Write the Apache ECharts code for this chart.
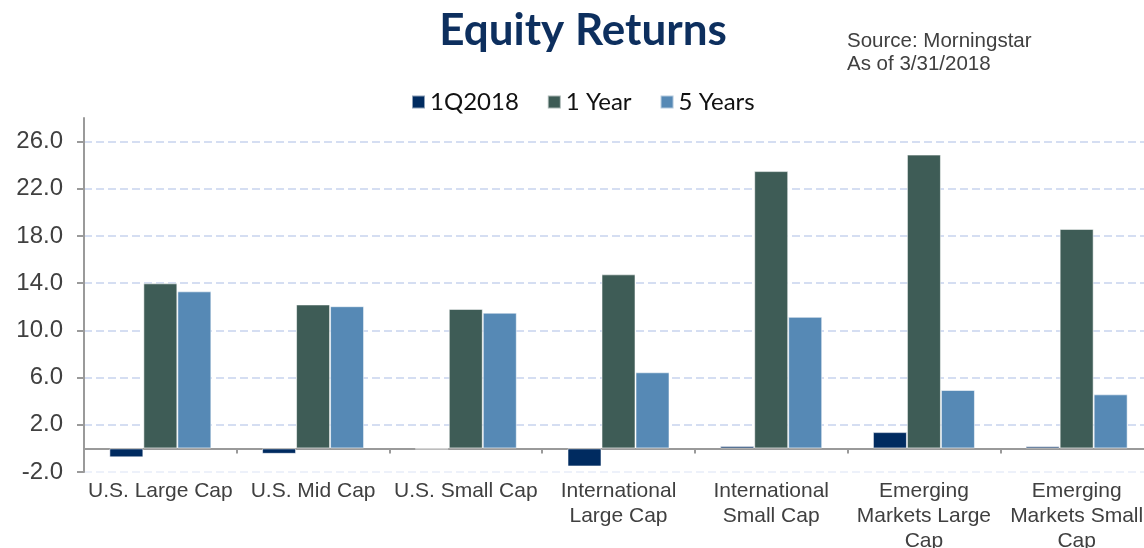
<!DOCTYPE html>
<html>
<head>
<meta charset="utf-8">
<script src="https://cdn.jsdelivr.net/npm/echarts@6/dist/echarts.min.js"></script>
<style>html,body{margin:0;padding:0;background:#fff;}#c{width:1144px;height:548px;}</style>
</head>
<body>
<div id="c"></div>
<script>
var categories = ['U.S. Large Cap', 'U.S. Mid Cap', 'U.S. Small Cap', 'International\nLarge Cap', 'International\nSmall Cap', 'Emerging\nMarkets Large\nCap', 'Emerging\nMarkets Small\nCap'];
var seriesNames = ['1Q2018', '1 Year', '5 Years'];
var q1 = [-0.76, -0.46, -0.08, -1.53, 0.2, 1.38, 0.18];
var oneYear = [13.99, 12.2, 11.82, 14.75, 23.5, 24.9, 18.6];
var fiveYears = [13.31, 12.05, 11.5, 6.45, 11.15, 4.95, 4.58];
var yTicks = [-2, 2, 6, 10, 14, 18, 22, 26];

var chart = echarts.init(document.getElementById('c'));
var colors = ['#002b60', '#3e5c56', '#5689b5'];
function bar(name, data, color) {
  return {
    name: name, type: 'bar', data: data, barWidth: 34, barGap: '0%',
    itemStyle: { color: color, borderColor: 'rgba(255,255,255,0.55)', borderWidth: 1 }
  };
}
chart.setOption({
  animation: false,
  title: [
    { text: 'Equity Returns', left: 578, top: 4, textAlign: 'center',
      textStyle: { fontFamily: 'Lato', fontWeight: 'bold', fontSize: 44, color: '#0d2f5e' } },
    { text: 'Source: Morningstar\nAs of 3/31/2018', left: 842, top: 25,
      textStyle: { fontFamily: 'Liberation Sans', fontWeight: 'normal', fontSize: 20.5, lineHeight: 23, color: '#404040' } }
  ],
  legend: {
    data: seriesNames, left: 406, top: 85, itemWidth: 13, itemHeight: 13, itemGap: 28,
    icon: 'rect',
    textStyle: { fontFamily: 'Lato', fontSize: 24, color: '#111' }
  },
  grid: { left: 84, right: -9, top: 118, bottom: 76, outerBoundsMode: 'none', containLabel: false },
  xAxis: {
    type: 'category', data: categories,
    axisLine: { onZero: true, lineStyle: { color: '#9a9a9a', width: 2 } },
    axisTick: { show: true, length: 5, lineStyle: { color: '#9a9a9a', width: 2 } },
    axisLabel: { margin: 7, fontFamily: 'Liberation Sans', fontSize: 21, lineHeight: 25, color: '#404040', interval: 0 }
  },
  yAxis: {
    type: 'value', min: -2, max: 28, interval: 4,
    axisLine: { show: true, lineStyle: { color: '#9a9a9a', width: 2 } },
    axisTick: { show: true, length: 7, customValues: yTicks, lineStyle: { color: '#9a9a9a', width: 2 } },
    axisLabel: { customValues: yTicks, margin: 21, fontFamily: 'Liberation Sans', fontSize: 24, color: '#404040',
      formatter: function (v) { return v.toFixed(1); } },
    splitLine: { show: true, lineStyle: { type: [8, 4], width: 2,
      color: ['#edf1fa', '#d5def2', '#d5def2', '#d5def2', '#d5def2', '#d5def2', '#d5def2', '#d5def2', 'rgba(0,0,0,0)'] } }
  },
  series: [
    bar(seriesNames[0], q1, colors[0]),
    bar(seriesNames[1], oneYear, colors[1]),
    bar(seriesNames[2], fiveYears, colors[2])
  ]
});
</script>
</body>
</html>
